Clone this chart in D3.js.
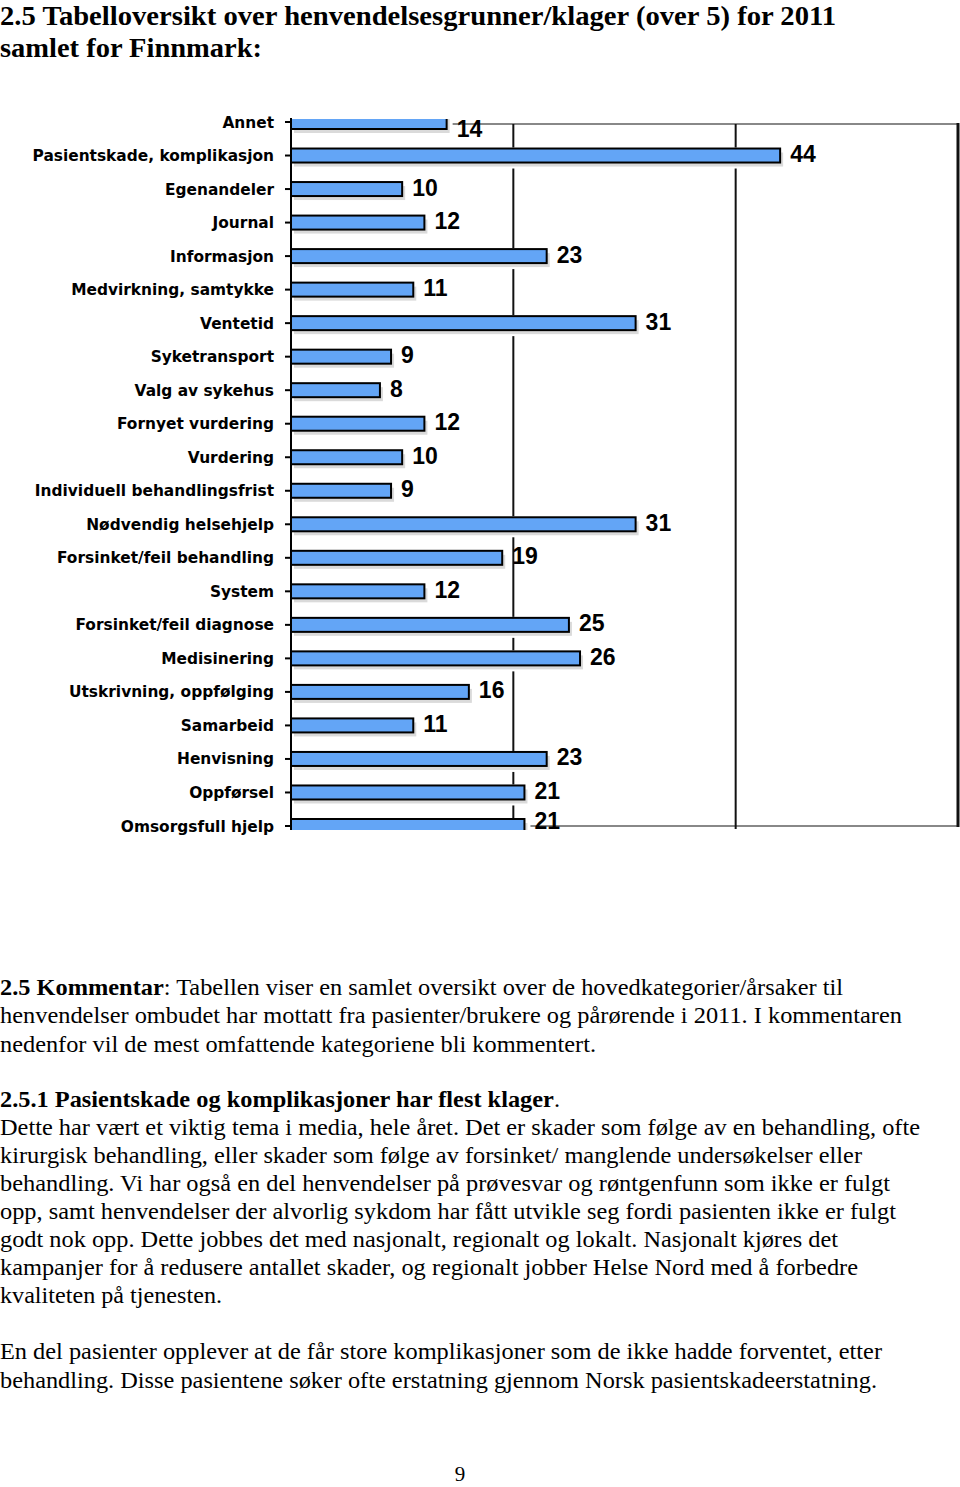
<!DOCTYPE html>
<html><head><meta charset="utf-8">
<script src="https://cdn.jsdelivr.net/npm/d3@7"></script>
<style>body{margin:0;background:#fff}svg{display:block}</style>
</head><body>
<script>
const categories = ["Annet","Pasientskade, komplikasjon","Egenandeler","Journal","Informasjon","Medvirkning, samtykke","Ventetid","Syketransport","Valg av sykehus","Fornyet vurdering","Vurdering","Individuell behandlingsfrist","Nødvendig helsehjelp","Forsinket/feil behandling","System","Forsinket/feil diagnose","Medisinering","Utskrivning, oppfølging","Samarbeid","Henvisning","Oppførsel","Omsorgsfull hjelp"];
const values = [14,44,10,12,23,11,31,9,8,12,10,9,31,19,12,25,26,16,11,23,21,21];
const gridTicks = [20,40];
const titleLines = ["2.5 Tabelloversikt over henvendelsesgrunner/klager (over 5) for 2011","samlet for Finnmark:"];

(function(){
const W=960,H=1487;
const SERIF="'Liberation Serif','Times New Roman',Times,serif";
const SANS="'Liberation Sans',Arial,Helvetica,sans-serif";
const svg=d3.select("body").append("svg").attr("width",W).attr("height",H);

// title
const titleW=[836,262];
titleLines.forEach((t,i)=>{
  svg.append("text").attr("x",0).attr("y",25+i*32)
    .style("font-family",SERIF).attr("font-weight","bold").attr("font-size",27)
    .attr("textLength",titleW[i]).attr("lengthAdjust","spacingAndGlyphs").text(t);
});

// chart
const x=d3.scaleLinear().domain([0,60]).range([291,958]);
const y=d3.scalePoint().domain(categories).range([122,826]);
const pTop=124,pBottom=826;
const g=svg.append("g");
svg.append("defs").append("clipPath").attr("id","clip").append("rect")
  .attr("x",0).attr("y",119).attr("width",W).attr("height",711);

// frame
g.append("line").attr("x1",x(0)).attr("x2",x(60)).attr("y1",pTop).attr("y2",pTop).attr("stroke","#888").attr("stroke-width",2);
g.append("line").attr("x1",x(0)).attr("x2",x(60)).attr("y1",pBottom).attr("y2",pBottom).attr("stroke","#888").attr("stroke-width",2);
g.append("line").attr("x1",x(60)).attr("x2",x(60)).attr("y1",pTop-1).attr("y2",pBottom+1).attr("stroke","#111").attr("stroke-width",3);
gridTicks.forEach(t=>{
  g.append("line").attr("x1",x(t)).attr("x2",x(t)).attr("y1",pTop).attr("y2",pBottom+3).attr("stroke","#111").attr("stroke-width",2);
});

const bh=14;
const bg=g.append("g").attr("clip-path","url(#clip)");
// white halo behind bars (hides gridlines)
bg.selectAll(".halo").data(values).join("rect")
  .attr("x",x(0)).attr("y",(d,i)=>y(categories[i])-bh/2-1)
  .attr("width",d=>x(d)-x(0)+6).attr("height",bh+7).attr("fill","#fff");
// shadow
bg.selectAll(".shadow").data(values).join("rect")
  .attr("x",x(0)+3).attr("y",(d,i)=>y(categories[i])-bh/2+4)
  .attr("width",d=>x(d)-x(0)).attr("height",bh).attr("fill","#dadada");
// bars
bg.selectAll(".bar").data(values).join("rect")
  .attr("x",x(0)).attr("y",(d,i)=>y(categories[i])-bh/2)
  .attr("width",d=>x(d)-x(0)).attr("height",bh)
  .attr("fill","#63a5f6").attr("stroke","#000").attr("stroke-width",2);

// axis
g.append("line").attr("x1",x(0)).attr("x2",x(0)).attr("y1",pTop-6).attr("y2",pBottom+4).attr("stroke","#000").attr("stroke-width",2);
g.selectAll(".tick").data(categories).join("line")
  .attr("x1",285).attr("x2",x(0)).attr("y1",d=>y(d)).attr("y2",d=>y(d)).attr("stroke","#000").attr("stroke-width",2);
g.selectAll(".cat").data(categories).join("text")
  .attr("x",274).attr("y",d=>y(d)+5.5).attr("text-anchor","end")
  .style("font-family","'DejaVu Sans',Verdana,sans-serif").attr("font-weight","bold").attr("font-size",15.4)
  .text(d=>d);
g.selectAll(".val").data(values).join("text")
  .attr("x",d=>x(d)+10).attr("y",(d,i)=>Math.min(Math.max(y(categories[i]),130),822)+6.5)
  .style("font-family",SANS).attr("font-weight","bold").attr("font-size",23)
  .text(d=>d);

// body text
const body=[
  {y:995,w:843,parts:[["2.5 Kommentar",true],[": Tabellen viser en samlet oversikt over de hovedkategorier/årsaker til",false]]},
  {y:1023,w:902,parts:[["henvendelser ombudet har mottatt fra pasienter/brukere og pårørende i 2011. I kommentaren",false]]},
  {y:1052,w:596,parts:[["nedenfor vil de mest omfattende kategoriene bli kommentert.",false]]},
  {y:1107,w:560,parts:[["2.5.1 Pasientskade og komplikasjoner har flest klager",true],[".",false]]},
  {y:1135,w:920,parts:[["Dette har vært et viktig tema i media, hele året. Det er skader som følge av en behandling, ofte",false]]},
  {y:1163,w:862,parts:[["kirurgisk behandling, eller skader som følge av forsinket/ manglende undersøkelser eller",false]]},
  {y:1191,w:890,parts:[["behandling. Vi har også en del henvendelser på prøvesvar og røntgenfunn som ikke er fulgt",false]]},
  {y:1219,w:896,parts:[["opp, samt henvendelser der alvorlig sykdom har fått utvikle seg fordi pasienten ikke er fulgt",false]]},
  {y:1247,w:838,parts:[["godt nok opp. Dette jobbes det med nasjonalt, regionalt og lokalt. Nasjonalt kjøres det",false]]},
  {y:1275,w:858,parts:[["kampanjer for å redusere antallet skader, og regionalt jobber Helse Nord med å forbedre",false]]},
  {y:1303,w:222,parts:[["kvaliteten på tjenesten.",false]]},
  {y:1359,w:882,parts:[["En del pasienter opplever at de får store komplikasjoner som de ikke hadde forventet, etter",false]]},
  {y:1388,w:877,parts:[["behandling. Disse pasientene søker ofte erstatning gjennom Norsk pasientskadeerstatning.",false]]}
];
body.forEach(l=>{
  const t=svg.append("text").attr("x",0).attr("y",l.y)
    .style("font-family",SERIF).attr("font-size",22.5)
    .attr("textLength",l.w).attr("lengthAdjust","spacingAndGlyphs");
  l.parts.forEach(p=>t.append("tspan").attr("font-weight",p[1]?"bold":"normal").text(p[0]));
});
svg.append("text").attr("x",460).attr("y",1481).attr("text-anchor","middle")
  .style("font-family",SERIF).attr("font-size",21).text("9");
})();
</script>
</body></html>
